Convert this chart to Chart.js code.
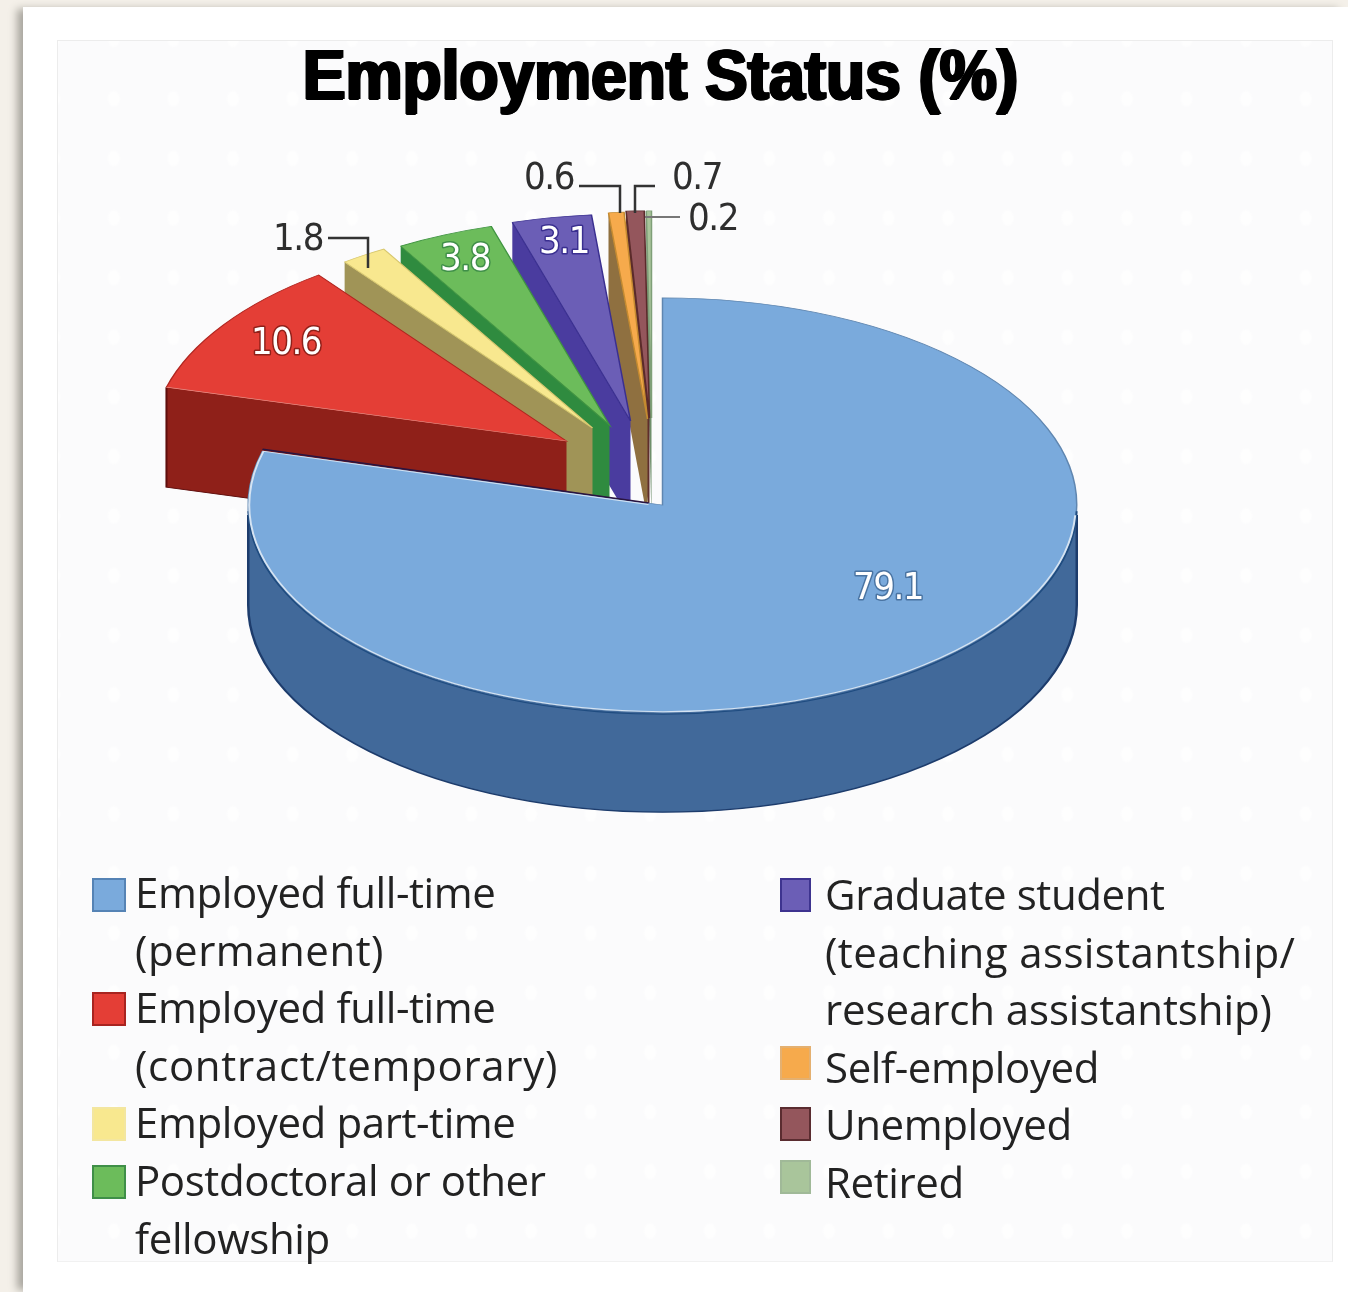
<!DOCTYPE html>
<html>
<head>
<meta charset="utf-8">
<script src="https://cdn.jsdelivr.net/npm/chart.js@4"></script>
<style>
html,body{margin:0;padding:0;width:1348px;height:1292px;overflow:hidden;background:#f4f0e9}
#card{position:absolute;left:23px;top:7px;width:1325px;height:1285px;background:#fff;box-shadow:-8px 0 8px -2px #a9a69f}
#panel{position:absolute;left:57px;top:40px;width:1276px;height:1222px;box-sizing:border-box;
 background-color:#fbfbfc;border:1px solid #ececec;border-bottom-color:#f1f1f1;
 background-image:radial-gradient(ellipse 7px 9px,rgba(255,255,255,.75) 70%,rgba(255,255,255,0) 100%);
 background-size:59.6px 59.6px;background-position:26px 28px}
#c{position:absolute;left:0;top:0}
.lg{position:absolute;font:400 42px/57.5px "Open Sans",sans-serif;color:#222;white-space:pre;letter-spacing:-.4px}
.sw{position:absolute;box-sizing:border-box;border:2px solid}
</style>
</head>
<body>
<div id="card"></div>
<div id="panel"></div>
<canvas id="c" width="1348" height="1292"></canvas>
<div id="legend"></div>
<script>
const titleText = 'Employment Status (%)';
const categories = ['Employed full-time (permanent)','Employed full-time (contract/temporary)','Employed part-time','Postdoctoral or other fellowship','Graduate student (teaching assistantship/ research assistantship)','Self-employed','Unemployed','Retired'];
const values = [79.1,10.6,1.8,3.8,3.1,0.6,0.7,0.2];

const legendLines = [['Employed full-time','(permanent)'],['Employed full-time','(contract/temporary)'],['Employed part-time'],['Postdoctoral or other','fellowship'],['Graduate student','(teaching assistantship/','research assistantship)'],['Self-employed'],['Unemployed'],['Retired']];
const wideLines = {'(contract/temporary)':0.7,'(teaching assistantship/':0.4,'research assistantship)':-0.1,'(permanent)':0.5};
const topColors  = ['#7aaadc','#e43e36','#f8e88f','#6cbc5b','#6b5eb6','#f6aa4c','#94565c','#a9c59b'];
const wallColors = ['#41699a','#8f2019','#a09457','#2f8b3f','#4a3c9f','#8f7040','#5f2e2c','#6f8f6b'];
const edgeColors = ['#5f86b0','#b0251f','#d8c870','#3f9440','#3a2f90','#c48a30','#5a2a2a','#7f9f78'];
const swatchBorders = ['#5583b5','#a82420','#f3e6a0','#3f8f48','#3d338f','#e4b070','#5a2c30','#a0b998'];

const explodeX = [0,-96,-70,-53,-32,-15,-13,-11];
const explodeY = [0,-64,-77,-80,-84,-86,-87,-87];
const drawOrder = [7,6,5,4,3,2,1,0];
const squash = 0.5, depth = 100, cx = 662.5, cy = 505;

const innerLabels = [[0,888,587,'#4a74a2'],[1,286,342,'#8f2019'],[3,465,258,'#3f8f48'],[4,564,241,'#3a2f90']];
const outerLabels = [[2,298,238],[5,549,177],[6,697,177],[7,713,218]];
const leaders = [[[328,238],[368,238],[368,268]],[[579,186],[620,186],[620,213]],[[655,186],[635,186],[635,213]],[[680,217],[645,217]]];
const labelFont = '38px "DejaVu Sans Condensed","DejaVu Sans",sans-serif';

const pie3d = {
  id:'pie3d',
  beforeDraw(chart){
    const t = chart.titleBlock;
    if(t && !t._narrow){
      t._narrow = true;
      const d = t.draw.bind(t), ctx = chart.ctx;
      t.draw = a => {
        [[-1.6,0],[1.6,0],[0,-.7],[0,.7],[-.8,.4],[.8,-.4]].forEach(([ox,oy])=>{
          ctx.save();
          ctx.translate(660.5+ox,oy); ctx.scale(.915,1); ctx.translate(-660,0);
          d(a);
          ctx.restore();
        });
      };
    }
  },
  beforeDatasetDraw(chart,args){
    const ctx = chart.ctx, arcs = args.meta.data;
    ctx.save();
    ctx.translate(0,cy); ctx.scale(1,squash); ctx.translate(0,-cy);
    const D = depth/squash;
    drawOrder.forEach(i=>{
      const a = arcs[i];
      a.x = cx + explodeX[i];
      a.y = cy + explodeY[i]/squash;
      const R = a.outerRadius;
      ctx.fillStyle = wallColors[i];
      ctx.beginPath();
      if(i===0){
        ctx.arc(a.x,a.y,R,0,Math.PI);
        ctx.arc(a.x,a.y+D,R,Math.PI,0,true);
      }else{
        const ox = a.x+R*Math.cos(a.startAngle), oy = a.y+R*Math.sin(a.startAngle);
        ctx.moveTo(a.x,a.y); ctx.lineTo(ox,oy); ctx.lineTo(ox,oy+D); ctx.lineTo(a.x,a.y+D);
      }
      ctx.closePath(); ctx.fill();
      if(i===1){
        const ox = a.x+R*Math.cos(a.startAngle), oy = a.y+R*Math.sin(a.startAngle);
        ctx.strokeStyle='#5e0d0c'; ctx.lineWidth=2;
        ctx.beginPath(); ctx.moveTo(ox,oy); ctx.lineTo(ox,oy+D); ctx.lineTo(a.x,a.y+D); ctx.stroke();
      }
      if(i===0){
        ctx.strokeStyle='#1d3c6c'; ctx.lineWidth=2.5;
        ctx.beginPath();
        ctx.moveTo(a.x+R,a.y+20); ctx.lineTo(a.x+R,a.y+D);
        ctx.arc(a.x,a.y+D,R,0,Math.PI);
        ctx.lineTo(a.x-R,a.y+20);
        ctx.stroke();
      }
      a.draw(ctx);
      if(i===1){
        const ox = a.x+R*Math.cos(a.startAngle), oy = a.y+R*Math.sin(a.startAngle);
        ctx.strokeStyle='#ee8f86'; ctx.lineWidth=1.5;
        ctx.beginPath(); ctx.moveTo(ox,oy); ctx.lineTo(a.x,a.y); ctx.stroke();
      }
      if(i===0){
        const ex = a.x+R*Math.cos(a.endAngle), ey = a.y+R*Math.sin(a.endAngle);
        ctx.strokeStyle='#1f4c80'; ctx.lineWidth=2;
        ctx.beginPath(); ctx.arc(a.x,a.y+4,R,0.02,Math.PI-0.02); ctx.stroke();
        ctx.strokeStyle='#2a1440'; ctx.lineWidth=3;
        ctx.beginPath(); ctx.moveTo(ex,ey-4); ctx.lineTo(a.x-14,a.y-4); ctx.stroke();
        ctx.strokeStyle='#d5e3f2'; ctx.lineWidth=2;
        ctx.beginPath();
        ctx.arc(a.x,a.y,R-1,0.05,a.endAngle);
        ctx.lineTo(a.x-14,a.y-1);
        ctx.stroke();
      }
    });
    ctx.restore();
    return false;
  },
  afterDatasetsDraw(chart){
    const ctx = chart.ctx;
    ctx.save();
    leaders.forEach((pts,k)=>{
      ctx.strokeStyle = k===3 ? '#777' : '#333';
      ctx.lineWidth = k===3 ? 2 : 2.5;
      ctx.beginPath();
      pts.forEach((p,j)=> j? ctx.lineTo(p[0],p[1]) : ctx.moveTo(p[0],p[1]));
      ctx.stroke();
    });
    ctx.font = labelFont; ctx.letterSpacing='-1.5px';
    ctx.textAlign='center'; ctx.textBaseline='middle'; ctx.lineJoin='round';
    outerLabels.forEach(([i,x,y])=>{
      ctx.fillStyle='#2e2e2e';
      ctx.fillText(values[i].toFixed(1),x,y+2);
    });
    innerLabels.forEach(([i,x,y,h])=>{
      ctx.strokeStyle=h; ctx.lineWidth=3;
      ctx.strokeText(values[i].toFixed(1),x,y+2);
      ctx.fillStyle='#fff';
      ctx.fillText(values[i].toFixed(1),x,y+2);
    });
    ctx.restore();
  }
};

new Chart(document.getElementById('c'),{
  type:'pie',
  data:{labels:categories,datasets:[{data:values,backgroundColor:topColors,borderColor:edgeColors,borderWidth:1.5,borderJoinStyle:'miter'}]},
  options:{
    responsive:false,animation:false,maintainAspectRatio:false,
    layout:{padding:{left:245,right:273,top:45,bottom:347}},
    plugins:{
      legend:{display:false},tooltip:{enabled:false},
      title:{display:true,text:titleText,color:'#000',padding:0,
        font:{family:'"Liberation Sans","Arial",sans-serif',size:70,weight:'bold',lineHeight:1}}
    }
  },
  plugins:[pie3d]
});

const legendPos = [[92,878,863],[92,992,978],[92,1107,1093],[92,1165,1151],[780,878,865],[780,1046,1038],[780,1107,1095],[780,1160,1153]];
const lg = document.getElementById('legend');
legendLines.forEach((lines,i)=>{
  const [sx,sy,ty]=legendPos[i];
  const s=document.createElement('div');
  s.className='sw';
  s.style.cssText=`left:${sx}px;top:${sy}px;width:${i<4?34:31}px;height:34px;background:${topColors[i]};border-color:${swatchBorders[i]}`;
  lg.appendChild(s);
  const t=document.createElement('div');
  t.className='lg';
  t.style.left=(i<4?135:825)+'px'; t.style.top=ty+'px';
  lines.forEach((ln,j)=>{
    const sp=document.createElement('div');
    sp.textContent=ln;
    if(wideLines[ln]!==undefined) sp.style.letterSpacing=wideLines[ln]+'px';
    t.appendChild(sp);
  });
  lg.appendChild(t);
});
</script>
</body>
</html>
